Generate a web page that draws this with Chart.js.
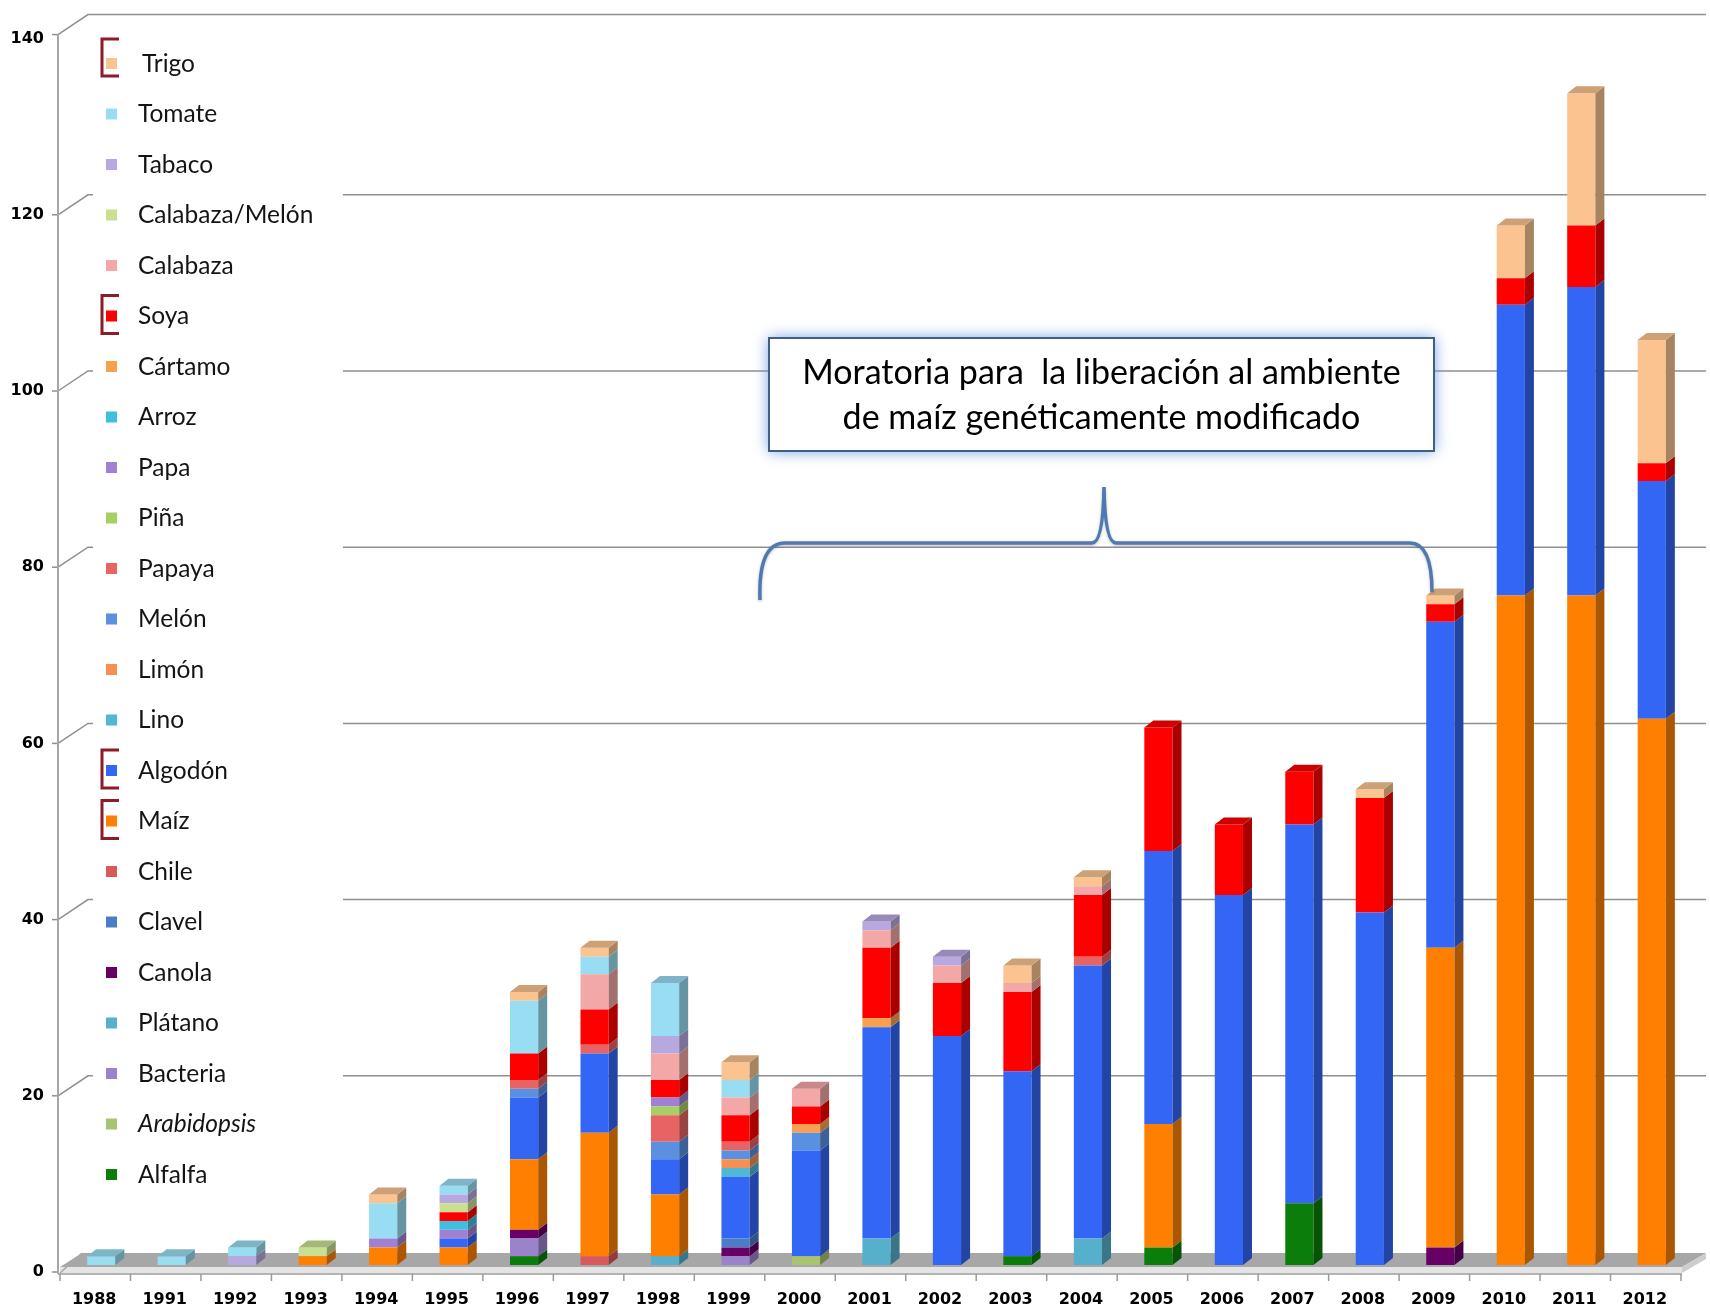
<!DOCTYPE html>
<html>
<head>
<meta charset="utf-8">
<title>Permisos de liberación de cultivos GM por año</title>
<script src="https://cdn.jsdelivr.net/npm/chart.js@4.4.1/dist/chart.umd.min.js"></script>
<style>
  html, body { margin: 0; padding: 0; background: #ffffff; }
  #wrap { width: 1710px; height: 1312px; position: relative; }
</style>
</head>
<body>
<div id="wrap"><canvas id="c" width="1710" height="1312"></canvas></div>
<script>
// Years shown on the horizontal axis
const years = ['1988','1991','1992','1993','1994','1995','1996','1997','1998','1999','2000',
               '2001','2002','2003','2004','2005','2006','2007','2008','2009','2010','2011','2012'];

// Value-axis ticks
const yTicks = [0, 20, 40, 60, 80, 100, 120, 140];

// Number of releases per crop and year (stacked bottom to top)
const alfalfa       = [0,0,0,0,0,0,1,0,0,0,0,0,0,1,0,2,0,7,0,0,0,0,0];
const arabidopsis   = [0,0,0,0,0,0,0,0,0,0,1,0,0,0,0,0,0,0,0,0,0,0,0];
const bacteria      = [0,0,0,0,0,0,2,0,0,1,0,0,0,0,0,0,0,0,0,0,0,0,0];
const platano       = [0,0,0,0,0,0,0,0,1,0,0,3,0,0,3,0,0,0,0,0,0,0,0];
const canola        = [0,0,0,0,0,0,1,0,0,1,0,0,0,0,0,0,0,0,0,2,0,0,0];
const clavel        = [0,0,0,0,0,0,0,0,0,1,0,0,0,0,0,0,0,0,0,0,0,0,0];
const chile         = [0,0,0,0,0,0,0,1,0,0,0,0,0,0,0,0,0,0,0,0,0,0,0];
const maiz          = [0,0,0,1,2,2,8,14,7,0,0,0,0,0,0,14,0,0,0,34,76,76,62];
const algodon       = [0,0,0,0,0,1,7,9,4,7,12,24,26,21,31,31,42,43,40,37,33,35,27];
const lino          = [0,0,0,0,0,0,0,0,0,1,0,0,0,0,0,0,0,0,0,0,0,0,0];
const limon         = [0,0,0,0,0,0,0,0,0,1,0,0,0,0,0,0,0,0,0,0,0,0,0];
const melon         = [0,0,0,0,0,0,1,0,2,1,2,0,0,0,0,0,0,0,0,0,0,0,0];
const papaya        = [0,0,0,0,0,0,1,1,3,1,0,0,0,0,1,0,0,0,0,0,0,0,0];
const pina          = [0,0,0,0,0,0,0,0,1,0,0,0,0,0,0,0,0,0,0,0,0,0,0];
const papa          = [0,0,0,0,1,1,0,0,1,0,0,0,0,0,0,0,0,0,0,0,0,0,0];
const arroz         = [0,0,0,0,0,1,0,0,0,0,0,0,0,0,0,0,0,0,0,0,0,0,0];
const cartamo       = [0,0,0,0,0,0,0,0,0,0,1,1,0,0,0,0,0,0,0,0,0,0,0];
const soya          = [0,0,0,0,0,1,3,4,2,3,2,8,6,9,7,14,8,6,13,2,3,7,2];
const calabaza      = [0,0,0,0,0,0,0,4,3,2,2,2,2,1,1,0,0,0,0,0,0,0,0];
const calabazaMelon = [0,0,0,1,0,1,0,0,0,0,0,0,0,0,0,0,0,0,0,0,0,0,0];
const tabaco        = [0,0,1,0,0,1,0,0,2,0,0,1,1,0,0,0,0,0,0,0,0,0,0];
const tomate        = [1,1,1,0,4,1,6,2,6,2,0,0,0,0,0,0,0,0,0,0,0,0,0];
const trigo         = [0,0,0,0,1,0,1,1,0,2,0,0,0,2,1,0,0,0,1,1,6,15,14];

// Crop names, bottom of the stack first
const cropNames = ['Alfalfa','Arabidopsis','Bacteria','Plátano','Canola','Clavel','Chile','Maíz',
  'Algodón','Lino','Limón','Melón','Papaya','Piña','Papa','Arroz','Cártamo','Soya','Calabaza',
  'Calabaza/Melón','Tabaco','Tomate','Trigo'];
const cropValues = [alfalfa, arabidopsis, bacteria, platano, canola, clavel, chile, maiz,
  algodon, lino, limon, melon, papaya, pina, papa, arroz, cartamo, soya, calabaza,
  calabazaMelon, tabaco, tomate, trigo];
const cropColors = ['#0A7D0A','#A9C46E','#9B83CC','#56AFCB','#660066','#4A7CC8','#D95A5A','#FF8000',
  '#3366F5','#4FB8D6','#F59050','#5B8FE0','#E86464','#A6D062','#9F80D2','#3FBFDF','#F8A050','#FF0000',
  '#F3A7A7','#C9E092','#B8A8E0','#98DDF2','#FBC38F'];
// Crops marked with a bracket in the legend
const bracketed = ['Trigo','Soya','Algodón','Maíz'];

function shade(hex, f) {
  const n = parseInt(hex.slice(1), 16);
  const r = (n >> 16) & 255, g = (n >> 8) & 255, b = n & 255;
  return 'rgb(' + Math.round(r * (1 - f)) + ',' + Math.round(g * (1 - f)) + ',' + Math.round(b * (1 - f)) + ')';
}

const DEPTH_X = 9, DEPTH_Y = 7;       // bar side / top face depth
const WALL_X = 88, AXIS_X = 58;       // back wall and front axis x
const FLOOR_R = 1682;

const scenePlugin = {
  id: 'scene',
  beforeDatasetsDraw(chart) {
    const { ctx, scales: { x, y } } = chart;
    const b = y.getPixelForValue(0);
    ctx.save();
    // floor
    ctx.fillStyle = '#A7A7A7';
    ctx.beginPath();
    ctx.moveTo(60, b + 2); ctx.lineTo(FLOOR_R, b + 2); ctx.lineTo(1706, b - 12); ctx.lineTo(82, b - 12);
    ctx.closePath(); ctx.fill();
    ctx.fillStyle = '#E4E4E4';
    ctx.fillRect(60, b + 2, FLOOR_R - 60, 6);
    ctx.fillStyle = '#CDCDCD';
    ctx.beginPath();
    ctx.moveTo(FLOOR_R, b + 2); ctx.lineTo(1706, b - 12); ctx.lineTo(1706, b - 6); ctx.lineTo(FLOOR_R, b + 8);
    ctx.closePath(); ctx.fill();
    // front category axis with tick marks
    ctx.strokeStyle = '#B4B4B4'; ctx.lineWidth = 2;
    ctx.beginPath(); ctx.moveTo(AXIS_X, b + 9); ctx.lineTo(FLOOR_R, b + 9); ctx.stroke();
    ctx.lineWidth = 1.5; ctx.strokeStyle = '#9A9A9A';
    const step = (x.right - x.left) / years.length;
    for (let k = 0; k <= years.length; k++) {
      const tx = x.left - 6 + k * step;
      ctx.beginPath(); ctx.moveTo(tx, b + 9); ctx.lineTo(tx, b + 16); ctx.stroke();
    }
    // back wall gridlines joined to the front value axis
    ctx.strokeStyle = '#8F8F8F'; ctx.lineWidth = 1.5;
    yTicks.forEach(v => {
      const p = y.getPixelForValue(v);
      const lift = v === 140 ? 4 : 0;
      ctx.beginPath(); ctx.moveTo(AXIS_X - 6, p + 7 - lift); ctx.lineTo(AXIS_X, p + 7 - lift); ctx.stroke();
      if (v === 0) return;
      ctx.beginPath();
      ctx.moveTo(AXIS_X, p + 7 - lift); ctx.lineTo(WALL_X, p - 13 - lift); ctx.lineTo(1706, p - 13 - lift);
      ctx.stroke();
    });
    ctx.strokeStyle = '#A6A6A6'; ctx.lineWidth = 2;
    ctx.beginPath(); ctx.moveTo(AXIS_X, y.getPixelForValue(140) + 3); ctx.lineTo(AXIS_X, b + 9); ctx.stroke();
    ctx.strokeStyle = '#A7A7A7'; ctx.lineWidth = 1.5;
    ctx.beginPath(); ctx.moveTo(60, b + 8); ctx.lineTo(82, b - 12); ctx.stroke();
    // legend panel background
    ctx.fillStyle = '#FFFFFF';
    ctx.fillRect(93, 22, 250, 1190);
    ctx.restore();
  },
  afterDatasetsDraw(chart) {
    const { ctx } = chart;
    const n = chart.data.datasets.length;
    ctx.save();
    chart.data.datasets.forEach((ds, i) => {
      const meta = chart.getDatasetMeta(i);
      meta.data.forEach((el, j) => {
        if (!ds.data[j]) return;
        const { x: cx, y: top, base, width } = el.getProps(['x', 'y', 'base', 'width'], true);
        const l = cx - width / 2, r = cx + width / 2;
        ctx.fillStyle = shade(ds.backgroundColor, 0.33);
        ctx.beginPath();
        ctx.moveTo(r, top); ctx.lineTo(r + DEPTH_X, top - DEPTH_Y);
        ctx.lineTo(r + DEPTH_X, base - DEPTH_Y); ctx.lineTo(r, base);
        ctx.closePath(); ctx.fill();
        let topmost = true;
        for (let k = i + 1; k < n; k++) if (chart.data.datasets[k].data[j]) { topmost = false; break; }
        if (topmost) {
          ctx.fillStyle = shade(ds.backgroundColor, 0.18);
          ctx.beginPath();
          ctx.moveTo(l, top); ctx.lineTo(l + DEPTH_X, top - DEPTH_Y);
          ctx.lineTo(r + DEPTH_X, top - DEPTH_Y); ctx.lineTo(r, top);
          ctx.closePath(); ctx.fill();
        }
      });
    });
    ctx.restore();
  },
  afterDraw(chart) {
    const { ctx } = chart;
    ctx.save();
    // legend, top of the stack first
    ctx.textBaseline = 'middle';
    for (let k = 0; k < cropNames.length; k++) {
      const idx = cropNames.length - 1 - k;
      const name = cropNames[idx];
      const cy = 64 + k * 50.5;
      ctx.fillStyle = cropColors[idx];
      ctx.fillRect(106, cy - 6, 11, 11);
      ctx.fillStyle = '#141414';
      ctx.font = (name === 'Arabidopsis' ? 'italic ' : '') + '24.5px Lato, "Open Sans", sans-serif';
      ctx.fillText(name, name === 'Trigo' ? 142 : 138, cy);
      if (bracketed.includes(name)) {
        const t = name === 'Trigo' ? cy - 25 : cy - 21;
        const bt = name === 'Trigo' ? cy + 12 : cy + 17;
        ctx.strokeStyle = '#8E1B2A'; ctx.lineWidth = 3;
        ctx.beginPath();
        ctx.moveTo(119, t); ctx.lineTo(102, t); ctx.lineTo(102, bt); ctx.lineTo(119, bt);
        ctx.stroke();
      }
    }
    // moratorium note
    const bx = 769, by = 338, bw = 665, bh = 113;
    ctx.shadowColor = 'rgba(100,150,225,0.95)';
    ctx.shadowBlur = 14;
    ctx.fillStyle = '#FFFFFF';
    ctx.fillRect(bx, by, bw, bh);
    ctx.shadowBlur = 0; ctx.shadowColor = 'transparent';
    ctx.strokeStyle = '#3F5F86'; ctx.lineWidth = 2;
    ctx.strokeRect(bx, by, bw, bh);
    ctx.fillStyle = '#000000';
    ctx.textAlign = 'center';
    ctx.font = '34px Lato, "Open Sans", sans-serif';
    ctx.fillText('Moratoria para  la liberación al ambiente', bx + bw / 2, 373);
    ctx.fillText('de maíz genéticamente modificado', bx + bw / 2, 418);
    // curly brace spanning the moratorium years
    ctx.strokeStyle = '#4F79B0'; ctx.lineWidth = 3.5;
    ctx.shadowColor = 'rgba(0,0,0,0.25)'; ctx.shadowBlur = 3; ctx.shadowOffsetY = 1;
    ctx.beginPath();
    ctx.moveTo(760, 600);
    ctx.quadraticCurveTo(758, 543, 785, 543);
    ctx.lineTo(1092, 543);
    ctx.quadraticCurveTo(1103, 543, 1104, 487);
    ctx.quadraticCurveTo(1105, 543, 1116, 543);
    ctx.lineTo(1410, 543);
    ctx.quadraticCurveTo(1432, 543, 1432, 592);
    ctx.stroke();
    ctx.restore();
  }
};

const datasets = cropNames.map((name, i) => ({
  label: name,
  data: cropValues[i],
  backgroundColor: cropColors[i],
  borderWidth: 0,
  stack: 'cultivos'
}));

new Chart(document.getElementById('c'), {
  type: 'bar',
  data: { labels: years, datasets },
  options: {
    responsive: false,
    animation: false,
    events: [],
    layout: { padding: { left: 0, right: 23, top: 23, bottom: 0 } },
    datasets: { bar: { barPercentage: 0.4, categoryPercentage: 1.0 } },
    plugins: { legend: { display: false }, tooltip: { enabled: false } },
    scales: {
      x: {
        stacked: true,
        grid: { display: false, drawTicks: false },
        border: { display: false },
        ticks: {
          color: '#000', font: { family: '"DejaVu Sans"', size: 16, weight: 'bold' },
          padding: 25, labelOffset: -7, maxRotation: 0, autoSkip: false
        },
        afterFit(s) { s.height = 47; }
      },
      y: {
        stacked: true, min: 0, max: 140,
        grid: { display: false, drawTicks: false },
        border: { display: false },
        ticks: {
          stepSize: 20, color: '#000', font: { family: '"DejaVu Sans"', size: 16, weight: 'bold' },
          padding: 22, labelOffset: 7
        },
        afterFit(s) { s.width = 66; }
      }
    }
  },
  plugins: [scenePlugin]
});
</script>
</body>
</html>
